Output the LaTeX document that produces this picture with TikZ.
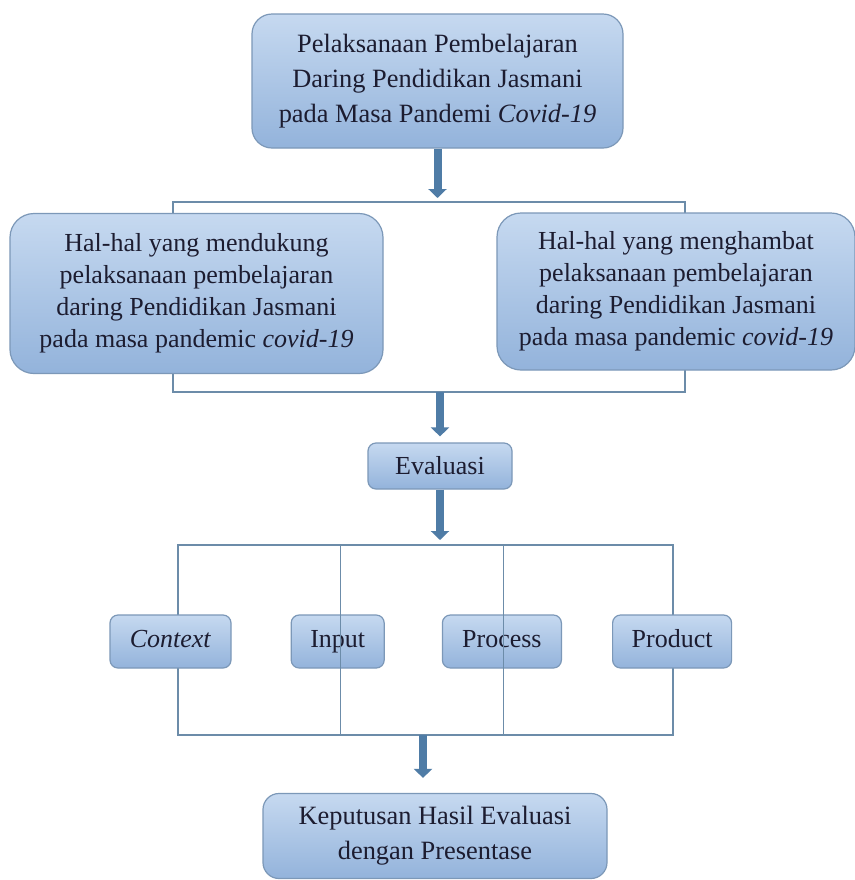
\documentclass[tikz,border=0pt]{standalone}
\usepackage{fontspec}
\setmainfont{Liberation Serif}
\usetikzlibrary{arrows.meta, positioning}
\definecolor{kotakatas}{HTML}{C6D9F0}
\definecolor{kotakbawah}{HTML}{93B3DB}
\definecolor{garistepi}{HTML}{7C98B8}
\definecolor{garisbiru}{HTML}{6C8CA9}
\definecolor{panahbiru}{HTML}{4F7CA6}
\definecolor{tulisan}{HTML}{1C1C30}

\begin{document}
\begin{tikzpicture}[x=0.5pt, y=-0.5pt,
    kotak/.style={draw=garistepi, line width=0.6pt, top color=kotakatas, bottom color=kotakbawah, text=tulisan, align=center, inner sep=0pt, font=\fontsize{13}{16}\selectfont},
    tahap/.style={kotak, rounded corners=4pt, minimum height=26.5pt, text height=0.75em, text depth=0.15em},
    panah/.style={draw=panahbiru, line width=4pt, -{Triangle[length=4.5pt, width=9pt]}},
    garis/.style={draw=garisbiru, line width=1.3pt},
    tipis/.style={draw=garisbiru, line width=0.5pt}]
    \useasboundingbox[fill=white] (0,0) rectangle (855,880);

    % kurung di bawah kotak
    \coordinate (k1a) at (173,202);
    \coordinate (k1b) at (685,392);
    \coordinate (k2a) at (178,545);
    \coordinate (k2b) at (673,735);
    \coordinate (k2c) at (423,735);
    \draw[garis] (k1a) rectangle (k1b);
    \draw[garis] (k2a) rectangle (k2b);

    \node[kotak, rounded corners=10pt, minimum width=185.5pt, minimum height=67pt, font=\fontsize{13.2}{17.5}\selectfont] (awal) at (437.5,81) {Pelaksanaan Pembelajaran\\Daring Pendidikan Jasmani\\pada Masa Pandemi \textit{Covid-19}};
    \node[kotak, rounded corners=12pt, minimum width=186.5pt, minimum height=80pt] (dukung) at (196.5,293.5) {Hal-hal yang mendukung\\pelaksanaan pembelajaran\\daring Pendidikan Jasmani\\pada masa pandemic \textit{covid-19}};
    \node[kotak, rounded corners=12pt, minimum width=179pt, minimum height=78.5pt] (hambat) at (676,291.5) {Hal-hal yang menghambat\\pelaksanaan pembelajaran\\daring Pendidikan Jasmani\\pada masa pandemic \textit{covid-19}};
    \node[kotak, rounded corners=4pt, minimum width=72pt, minimum height=23pt] (evaluasi) at (440,466) {Evaluasi};

    \node[tahap, minimum width=60.5pt] (konteks) at (170.5,641.5) {\textit{Context}};
    \node[tahap, minimum width=46.5pt, right=29.5pt of konteks] (masukan) {Input};
    \node[tahap, minimum width=59.5pt, right=28.5pt of masukan] (proses) {Process};
    \node[tahap, minimum width=59.5pt, right=25pt of proses] (produk) {Product};

    \node[kotak, rounded corners=8pt, minimum width=172pt, minimum height=42.5pt, font=\fontsize{13.2}{17.5}\selectfont] (hasil) at (435,836) {Keputusan Hasil Evaluasi\\dengan Presentase};

    \foreach \xv in {340,503}
        \draw[tipis] (\xv,545) -- (\xv,735);

    \draw[panah, shorten >=2pt] (awal.south) -- (awal.south |- k1a);
    \draw[panah, shorten >=3pt] (evaluasi.north |- k1b) -- (evaluasi.north);
    \draw[panah, shorten >=2.5pt] (evaluasi.south) -- (evaluasi.south |- k2a);
    \draw[panah, shorten >=7.5pt] (k2c) -- (k2c |- hasil.north);
\end{tikzpicture}
\end{document}
